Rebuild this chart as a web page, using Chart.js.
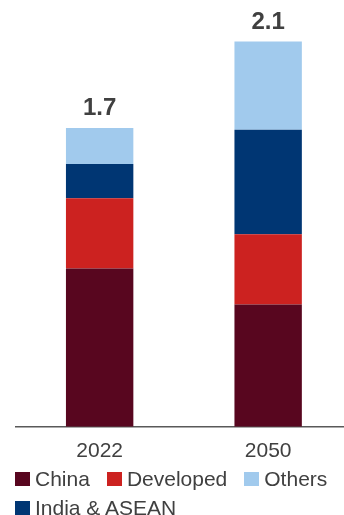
<!DOCTYPE html>
<html>
<head>
<meta charset="utf-8">
<script src="https://cdn.jsdelivr.net/npm/chart.js@4/dist/chart.umd.min.js"></script>
<style>
  html, body { margin: 0; padding: 0; background: #fff; overflow: hidden; }
  #wrap { position: relative; width: 344px; height: 515px; overflow: hidden; }
  #demand-chart { position: absolute; left: 0; top: 0; }
  #legend {
    position: absolute; left: 15px; top: 464px; width: 329px;
    display: flex; flex-wrap: wrap; column-gap: 17px;
    font: 21px "Liberation Sans", Arial, sans-serif; color: #404040; line-height: 29px;
  }
  #legend .item { display: flex; align-items: center; white-space: nowrap; }
  #legend .sw { width: 15px; height: 14px; margin-right: 5px; }
</style>
</head>
<body>
<div id="wrap">
  <canvas id="demand-chart" width="360" height="475"></canvas>
  <div id="legend"></div>
</div>
<script>
  const years = ["2022", "2050"];
  const china = [0.88, 0.68];
  const developed = [0.39, 0.39];
  const indiaAsean = [0.19, 0.58];
  const others = [0.20, 0.49];

  // stacked bottom -> top
  const series = [
    { label: "China", data: china, color: "#58061f" },
    { label: "Developed", data: developed, color: "#cc2220" },
    { label: "India & ASEAN", data: indiaAsean, color: "#003673" },
    { label: "Others", data: others, color: "#a1caed" },
  ];
  const legendOrder = ["China", "Developed", "Others", "India & ASEAN"];

  const textColor = "#404040";
  const fontFamily = "'Liberation Sans', Arial, sans-serif";

  const totals = years.map((_, i) => series.reduce((s, d) => s + d.data[i], 0));

  const totalLabels = {
    id: "totalLabels",
    afterDatasetsDraw(chart) {
      const { ctx, scales: { x, y } } = chart;
      ctx.save();
      ctx.font = `bold 24px ${fontFamily}`;
      ctx.fillStyle = textColor;
      ctx.textAlign = "center";
      ctx.textBaseline = "alphabetic";
      totals.forEach((t, i) => {
        ctx.fillText(t.toFixed(1), x.getPixelForValue(i), y.getPixelForValue(t) - 13);
      });
      ctx.restore();
    },
  };

  const chart = new Chart(document.getElementById("demand-chart"), {
    type: "bar",
    data: {
      labels: years,
      datasets: series.map((s) => ({
        label: s.label,
        data: s.data,
        backgroundColor: s.color,
        borderWidth: 0,
        barPercentage: 0.4,
        categoryPercentage: 1,
      })),
    },
    options: {
      responsive: false,
      animation: false,
      devicePixelRatio: 1,
      layout: { padding: { left: 15.4, right: 7.6, top: 3.8, bottom: 0 } },
      plugins: { legend: { display: false }, tooltip: { enabled: false } },
      scales: {
        x: {
          stacked: true,
          grid: { display: false, drawTicks: false },
          border: { color: "#595959", width: 1.5 },
          ticks: { color: textColor, font: { size: 21, family: fontFamily }, padding: 11.5 },
        },
        y: { stacked: true, display: false, min: 0, max: 2.35 },
      },
    },
    plugins: [totalLabels],
  });

  const legend = document.getElementById("legend");
  legendOrder.forEach((name) => {
    const s = series.find((d) => d.label === name);
    const item = document.createElement("div");
    item.className = "item";
    item.innerHTML = `<span class="sw" style="background:${s.color}"></span><span></span>`;
    item.lastChild.textContent = s.label;
    legend.appendChild(item);
  });
</script>
</body>
</html>
